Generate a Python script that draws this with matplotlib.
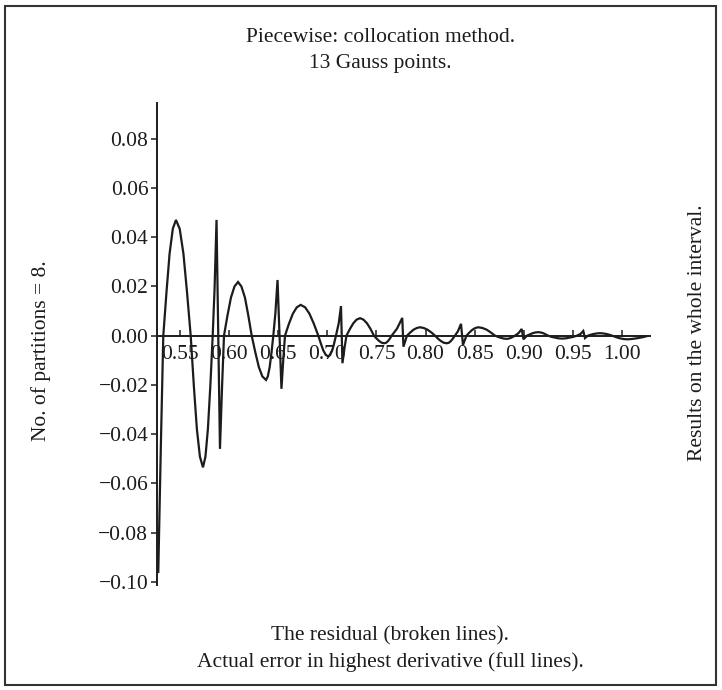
import matplotlib
matplotlib.use("Agg")
import matplotlib.pyplot as plt
from matplotlib.patches import Rectangle

# ---- data (one piece per partition) ----
x_p1 = [0.5279, 0.5305, 0.5330, 0.5363, 0.5394, 0.5427, 0.5459, 0.5497, 0.5535, 0.5571, 0.5609,
        0.5641, 0.5672, 0.5703, 0.5734, 0.5759, 0.5784, 0.5809, 0.5833, 0.5852, 0.5872]
y_p1 = [-0.096, -0.045, 0.0, 0.0179, 0.0333, 0.0434, 0.047, 0.0434, 0.0333, 0.0179, 0.0,
        -0.0204, -0.038, -0.0492, -0.0535, -0.0492, -0.038, -0.0204, 0.0, 0.019, 0.047]

x_p2 = [0.5907, 0.5928, 0.5948, 0.5984, 0.6019, 0.6055, 0.6091, 0.6125, 0.6161, 0.6195, 0.6230,
        0.6267, 0.6303, 0.6339, 0.6376, 0.6394, 0.6413, 0.6432, 0.6450, 0.6471, 0.6493]
y_p2 = [-0.046, -0.021, 0.0, 0.0083, 0.0155, 0.0200, 0.0218, 0.0200, 0.0155, 0.0083, 0.0,
        -0.0068, -0.0128, -0.0166, -0.018, -0.0166, -0.0128, -0.0068, 0.0, 0.009, 0.0226]

x_p3 = [0.6533, 0.6552, 0.6569, 0.6609, 0.6649, 0.6689, 0.6729, 0.6774, 0.6818, 0.6863, 0.6908,
        0.6934, 0.6959, 0.6984, 0.7010, 0.7029, 0.7050, 0.7069, 0.7088, 0.7116, 0.7139]
y_p3 = [-0.0216, -0.0095, 0.0, 0.0048, 0.0089, 0.0115, 0.0125, 0.0115, 0.0089, 0.0048, 0.0,
        -0.0032, -0.006, -0.0078, -0.0085, -0.0078, -0.006, -0.0032, 0.0, 0.005, 0.012]

x_p4 = [0.7154, 0.7175, 0.7195, 0.7230, 0.7264, 0.7298, 0.7333, 0.7368, 0.7404, 0.7440, 0.7475,
        0.7502, 0.7528, 0.7554, 0.7580, 0.7599, 0.7618, 0.7637, 0.7655, 0.7709, 0.7763]
y_p4 = [-0.0112, -0.005, 0.0, 0.0027, 0.005, 0.0065, 0.0071, 0.0065, 0.005, 0.0027, 0.0,
        -0.0012, -0.0022, -0.0029, -0.0031, -0.0029, -0.0022, -0.0012, 0.0, 0.0028, 0.0072]

x_p5 = [0.7775, 0.7811, 0.7845, 0.7877, 0.7911, 0.7943, 0.7982, 0.8020, 0.8059, 0.8096,
        0.8126, 0.8156, 0.8186, 0.8215, 0.8237, 0.8258, 0.8278, 0.8300, 0.8330, 0.8361]
y_p5 = [-0.0045, 0.0, 0.0013, 0.0024, 0.0031, 0.0034, 0.0031, 0.0024, 0.0013, 0.0,
        -0.0012, -0.0022, -0.0029, -0.0031, -0.0029, -0.0022, -0.0012, 0.0, 0.0018, 0.0048]

x_p6 = [0.8381, 0.8417, 0.8447, 0.8477, 0.8507, 0.8537, 0.8580, 0.8623, 0.8664, 0.8707,
        0.8737, 0.8767, 0.8797, 0.8826, 0.8848, 0.8869, 0.8889, 0.8911, 0.8946, 0.8979]
y_p6 = [-0.0038, 0.0, 0.0013, 0.0024, 0.0031, 0.0034, 0.0031, 0.0024, 0.0013, 0.0,
        -0.0005, -0.0009, -0.0012, -0.0013, -0.0012, -0.0009, -0.0005, 0.0, 0.0010, 0.0027]

x_p7 = [0.8997, 0.9033, 0.9061, 0.9091, 0.9119, 0.9148, 0.9172, 0.9198, 0.9222, 0.9247,
        0.9282, 0.9318, 0.9354, 0.9389, 0.9428, 0.9466, 0.9504, 0.9542, 0.9578, 0.9606]
y_p7 = [-0.0015, 0.0, 0.0005, 0.001, 0.0013, 0.0014, 0.0013, 0.001, 0.0005, 0.0,
        -0.0005, -0.0008, -0.0011, -0.0012, -0.0011, -0.0008, -0.0005, 0.0, 0.0007, 0.0019]

x_p8 = [0.9623, 0.9654, 0.9684, 0.9715, 0.9746, 0.9776, 0.9807, 0.9837, 0.9868, 0.9898,
        0.9939, 0.9980, 1.0020, 1.0061, 1.0112, 1.0163, 1.0214, 1.0244]
y_p8 = [-0.001, 0.0, 0.0004, 0.0007, 0.0009, 0.001, 0.0009, 0.0007, 0.0004, 0.0,
        -0.0006, -0.0011, -0.0014, -0.0015, -0.0013, -0.001, -0.0006, -0.0003]

x_ticks = [0.55, 0.60, 0.65, 0.70, 0.75, 0.80, 0.85, 0.90, 0.95, 1.00]
y_ticks = [-0.10, -0.08, -0.06, -0.04, -0.02, 0.00, 0.02, 0.04, 0.06, 0.08]

title_lines = ["Piecewise: collocation method.", "13 Gauss points."]
bottom_lines = ["The residual (broken lines).", "Actual error in highest derivative (full lines)."]
left_label = "No. of partitions = 8."
right_label = "Results on the whole interval."

# ---- figure ----
W, H = 722, 690
plt.rcParams['font.family'] = ['Liberation Serif', 'DejaVu Serif']
fig = plt.figure(figsize=(W / 100, H / 100), dpi=100)
fig.patch.set_facecolor('white')

ink = '#1c1c1c'
ax_l, ax_r, ax_t, ax_b = 157.3, 649.5, 103.0, 585.0
ax = fig.add_axes([ax_l / W, 1 - ax_b / H, (ax_r - ax_l) / W, (ax_b - ax_t) / H])
ax.set_xlim(0.5269, 1.028)
ax.set_ylim(-0.1013, 0.0945)

xs = x_p1 + x_p2 + x_p3 + x_p4 + x_p5 + x_p6 + x_p7 + x_p8
ys = y_p1 + y_p2 + y_p3 + y_p4 + y_p5 + y_p6 + y_p7 + y_p8
ax.plot(xs, ys, color=ink, lw=1.6, solid_joinstyle='miter', clip_on=False)

for s in ['top', 'right']:
    ax.spines[s].set_visible(False)
ax.spines['bottom'].set_position(('data', 0))
for s in ['left', 'bottom']:
    ax.spines[s].set_linewidth(1.4)
    ax.spines[s].set_color(ink)

fs = 15.5
ax.set_xticks(x_ticks)
ax.set_xticklabels([f"{v:.2f}" for v in x_ticks])
ax.set_yticks(y_ticks)
ax.set_yticklabels([f"{v:.2f}".replace('-', '\u2212') if v < 0 else f"{v:.2f}" for v in y_ticks])
ax.tick_params(axis='x', direction='in', length=4, width=1.1, pad=6.5, labelsize=fs, colors=ink)
ax.tick_params(axis='y', direction='out', length=4, width=1.1, pad=2.5, labelsize=fs, colors=ink)
ax.patch.set_alpha(0)

fig.text(380 / W, 1 - 42 / H, title_lines[0], ha='center', va='baseline', fontsize=fs, color=ink)
fig.text(380 / W, 1 - 68 / H, title_lines[1], ha='center', va='baseline', fontsize=fs, color=ink)
fig.text(390 / W, 1 - 640 / H, bottom_lines[0], ha='center', va='baseline', fontsize=fs, color=ink)
fig.text(390 / W, 1 - 667 / H, bottom_lines[1], ha='center', va='baseline', fontsize=fs, color=ink)
fig.text(41 / W, 1 - 351 / H, left_label, ha='center', va='center', rotation=90, fontsize=fs, color=ink)
fig.text(697 / W, 1 - 333 / H, right_label, ha='center', va='center', rotation=90, fontsize=fs, color=ink)

fig.patches.append(Rectangle((5 / W, 1 - 685 / H), 711 / W, 679 / H, transform=fig.transFigure,
                             fill=False, edgecolor='#333333', lw=1.5))

fig.savefig('out.png', dpi=100, facecolor='white')
